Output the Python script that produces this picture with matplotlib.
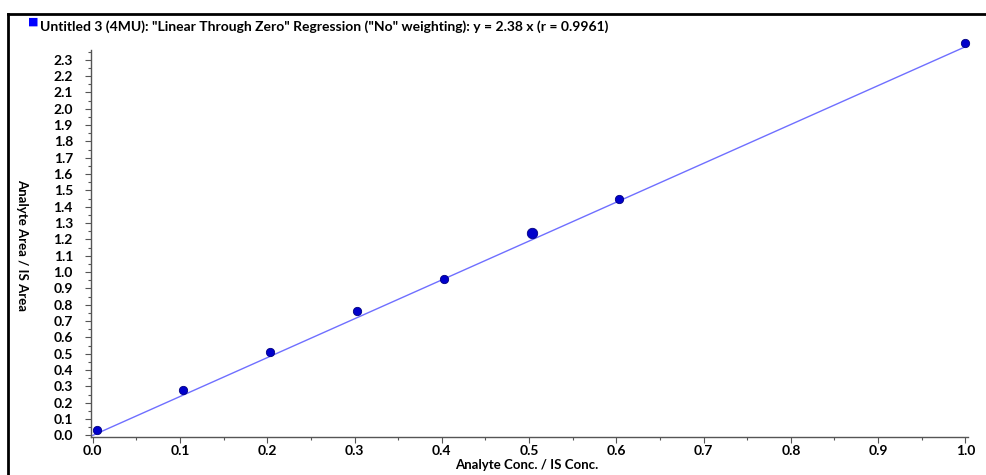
import numpy as np
import matplotlib.pyplot as plt
from matplotlib.ticker import MultipleLocator, FormatStrFormatter
from matplotlib.lines import Line2D

plt.rcParams['font.family'] = ['Lato', 'DejaVu Sans']

conc = [0.005, 0.103, 0.203, 0.303, 0.403, 0.503, 0.603, 1.0]
area = [0.03, 0.28, 0.51, 0.76, 0.96, 1.24, 1.45, 2.40]
sizes = [6, 6, 6, 6, 6, 7.5, 6, 6]
slope = 2.38
title = 'Untitled 3 (4MU): "Linear Through Zero" Regression ("No" weighting): y = 2.38 x (r = 0.9961)'

fig = plt.figure(figsize=(9.86, 4.75), dpi=100)
ax = fig.add_axes([91 / 986, 38 / 475, 877 / 986, 387 / 475])

# fitted line through zero
xs = np.array([0.0, 1.0])
ax.plot(xs, slope * xs, color='#6f6fff', lw=1.0, clip_on=False, zorder=2)
for x, y, s in zip(conc, area, sizes):
    ax.plot(x, y, 'o', color='#0000cc', mec='#000080', mew=0.6, ms=s,
            clip_on=False, zorder=3)

ax.set_xlim(-0.002, 1.003)
ax.set_ylim(-0.01, 2.36)
ax.xaxis.set_major_locator(MultipleLocator(0.1))
ax.xaxis.set_minor_locator(MultipleLocator(0.05))
ax.yaxis.set_major_locator(MultipleLocator(0.1))
ax.yaxis.set_minor_locator(MultipleLocator(0.05))
ax.xaxis.set_major_formatter(FormatStrFormatter('%.1f'))
ax.yaxis.set_major_formatter(FormatStrFormatter('%.1f'))

for side in ['top', 'right']:
    ax.spines[side].set_visible(False)
for side in ['left', 'bottom']:
    ax.spines[side].set_color('#555555')
    ax.spines[side].set_linewidth(1.0)
ax.tick_params(which='major', length=4, color='#555555', width=0.8,
               labelsize=10)
ax.tick_params(axis='x', which='major', pad=1.5)
ax.tick_params(axis='y', which='major', pad=9)
ax.tick_params(which='minor', length=2, color='#555555', width=0.8)
for lab in ax.get_xticklabels() + ax.get_yticklabels():
    lab.set_fontweight('bold')

fig.text(527 / 986, 1 - 465 / 475, 'Analyte Conc. / IS Conc.', ha='center',
         va='center', fontsize=9.5, fontweight='bold')
fig.text(22 / 986, 1 - 245 / 475, 'Analyte Area / IS Area', ha='center',
         va='center', rotation=-90, fontsize=9.5, fontweight='bold')

# legend-like title with blue square
fig.text(33 / 986, 1 - 27 / 475, '\u25A0', color='#0000ff', fontsize=8,
         ha='center', va='bottom', family='DejaVu Sans')
fig.text(40 / 986, 1 - 27 / 475, title, ha='left', va='center',
         fontsize=10, fontweight='bold')

# outer frame
fig.add_artist(Line2D([8 / 986, 8 / 986], [0, 1 - 14 / 475], color='black',
                      lw=2, transform=fig.transFigure))
fig.add_artist(Line2D([8 / 986, 1], [1 - 14 / 475, 1 - 14 / 475],
                      color='black', lw=2, transform=fig.transFigure))

fig.savefig('out.png', dpi=100)
